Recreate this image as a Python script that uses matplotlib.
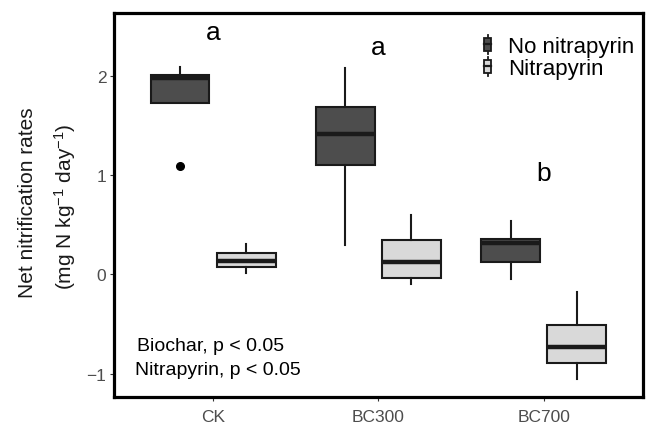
"""
Net nitrification rates by biochar treatment, with / without nitrapyrin.
Box statistics are read off the published figure.
"""
import matplotlib
matplotlib.use("Agg")
import matplotlib.pyplot as plt
from matplotlib.legend_handler import HandlerBase
from matplotlib.patches import Rectangle
from matplotlib.lines import Line2D

plt.rcParams["font.family"] = ["Liberation Sans", "DejaVu Sans"]
plt.rcParams["mathtext.fontset"] = "custom"
plt.rcParams["mathtext.rm"] = "Liberation Sans"
plt.rcParams["mathtext.it"] = "Liberation Sans:italic"

categories = ["CK", "BC300", "BC700"]
groups = ["No nitrapyrin", "Nitrapyrin"]
fills = ["#4d4d4d", "#d9d9d9"]
EDGE = "#1a1a1a"

# whisker low, Q1, median, Q3, whisker high, outliers
no_nitra_low = [1.73, 0.30, -0.05]
no_nitra_q1 = [1.73, 1.10, 0.13]
no_nitra_med = [1.985, 1.42, 0.32]
no_nitra_q3 = [2.01, 1.69, 0.355]
no_nitra_high = [2.09, 2.08, 0.535]
no_nitra_out = [[1.09], [], []]

nitra_low = [0.01, -0.10, -1.055]
nitra_q1 = [0.07, -0.035, -0.895]
nitra_med = [0.14, 0.125, -0.73]
nitra_q3 = [0.22, 0.35, -0.515]
nitra_high = [0.305, 0.60, -0.18]
nitra_out = [[], [], []]

letters = ["a", "a", "b"]
letter_y = [2.37, 2.22, 0.95]

stats_note = ["Biochar, p < 0.05", "Nitrapyrin, p < 0.05"]
note_y = [-0.72, -0.96]

yticks = [-1, 0, 1, 2]


def make_stats(low, q1, med, q3, high, out):
    return [dict(whislo=a, q1=b, med=c, q3=d, whishi=e, fliers=f)
            for a, b, c, d, e, f in zip(low, q1, med, q3, high, out)]


class BoxKey(HandlerBase):
    # small boxplot glyph like ggplot's legend key
    def create_artists(self, legend, orig_handle, xdescent, ydescent,
                       width, height, fontsize, trans):
        cx = -xdescent + width / 2
        cy = -ydescent + height / 2
        bw, bh, wh = 5.0, 9.5, 14.0
        whisk = Line2D([cx, cx], [cy - wh / 2, cy + wh / 2], color=EDGE,
                       lw=1.3, transform=trans)
        box = Rectangle((cx - bw / 2, cy - bh / 2), bw, bh,
                        facecolor=orig_handle.get_facecolor(), edgecolor=EDGE,
                        lw=1.3, transform=trans)
        med = Line2D([cx - bw / 2, cx + bw / 2], [cy, cy], color=EDGE,
                     lw=1.6, transform=trans)
        return [whisk, box, med]


fig = plt.figure(figsize=(6.48, 4.27), dpi=100)
ax = fig.add_axes([0.176, 0.067, 0.816, 0.9])

series = [
    make_stats(no_nitra_low, no_nitra_q1, no_nitra_med, no_nitra_q3, no_nitra_high, no_nitra_out),
    make_stats(nitra_low, nitra_q1, nitra_med, nitra_q3, nitra_high, nitra_out),
]
offsets = [-0.2, 0.2]
for stats, off, fc in zip(series, offsets, fills):
    pos = [i + 1 + off for i in range(len(categories))]
    ax.bxp(stats, positions=pos, widths=0.355, patch_artist=True,
           showcaps=False,
           boxprops=dict(facecolor=fc, edgecolor=EDGE, lw=1.5),
           whiskerprops=dict(color=EDGE, lw=1.5),
           medianprops=dict(color=EDGE, lw=3.2, solid_capstyle="butt"),
           flierprops=dict(marker="o", markerfacecolor="black",
                           markeredgecolor="black", markersize=5.5),
           zorder=2)

for i, (lab, y) in enumerate(zip(letters, letter_y)):
    ax.text(i + 1, y, lab, ha="center", va="baseline", fontsize=19, color="black")

ax.text(0.54, note_y[0], stats_note[0], ha="left", va="center", fontsize=14)
ax.text(0.525, note_y[1], stats_note[1], ha="left", va="center", fontsize=14)

ax.set_xlim(0.4, 3.6)
ax.set_ylim(-1.24, 2.635)
ax.set_xticks(range(1, len(categories) + 1))
ax.set_xticklabels(categories)
ax.set_yticks(yticks)
ax.tick_params(axis="both", length=3, width=0.8, color="#333333",
               labelcolor="#4d4d4d", labelsize=12.5)
ax.tick_params(axis="x", pad=5)
ax.tick_params(axis="y", pad=2.5)
for sp in ax.spines.values():
    sp.set_linewidth(2.3)
    sp.set_color("black")

handles = [Rectangle((0, 0), 1, 1, facecolor=fc) for fc in fills]
ax.legend(handles, groups, handler_map={Rectangle: BoxKey()},
          loc="upper left", bbox_to_anchor=(0.69, 0.94), frameon=False,
          fontsize=16, handlelength=0.8, handletextpad=0.5,
          labelspacing=0.05, borderpad=0, borderaxespad=0)

fig.text(0.043, 0.525, "Net nitrification rates", rotation=90,
         ha="center", va="center", fontsize=15, color="#1a1a1a")
fig.text(0.1, 0.515, r"(mg N kg$^{-1}$ day$^{-1}$)", rotation=90,
         ha="center", va="center", fontsize=15, color="#1a1a1a")

fig.savefig("out.png", dpi=100)
